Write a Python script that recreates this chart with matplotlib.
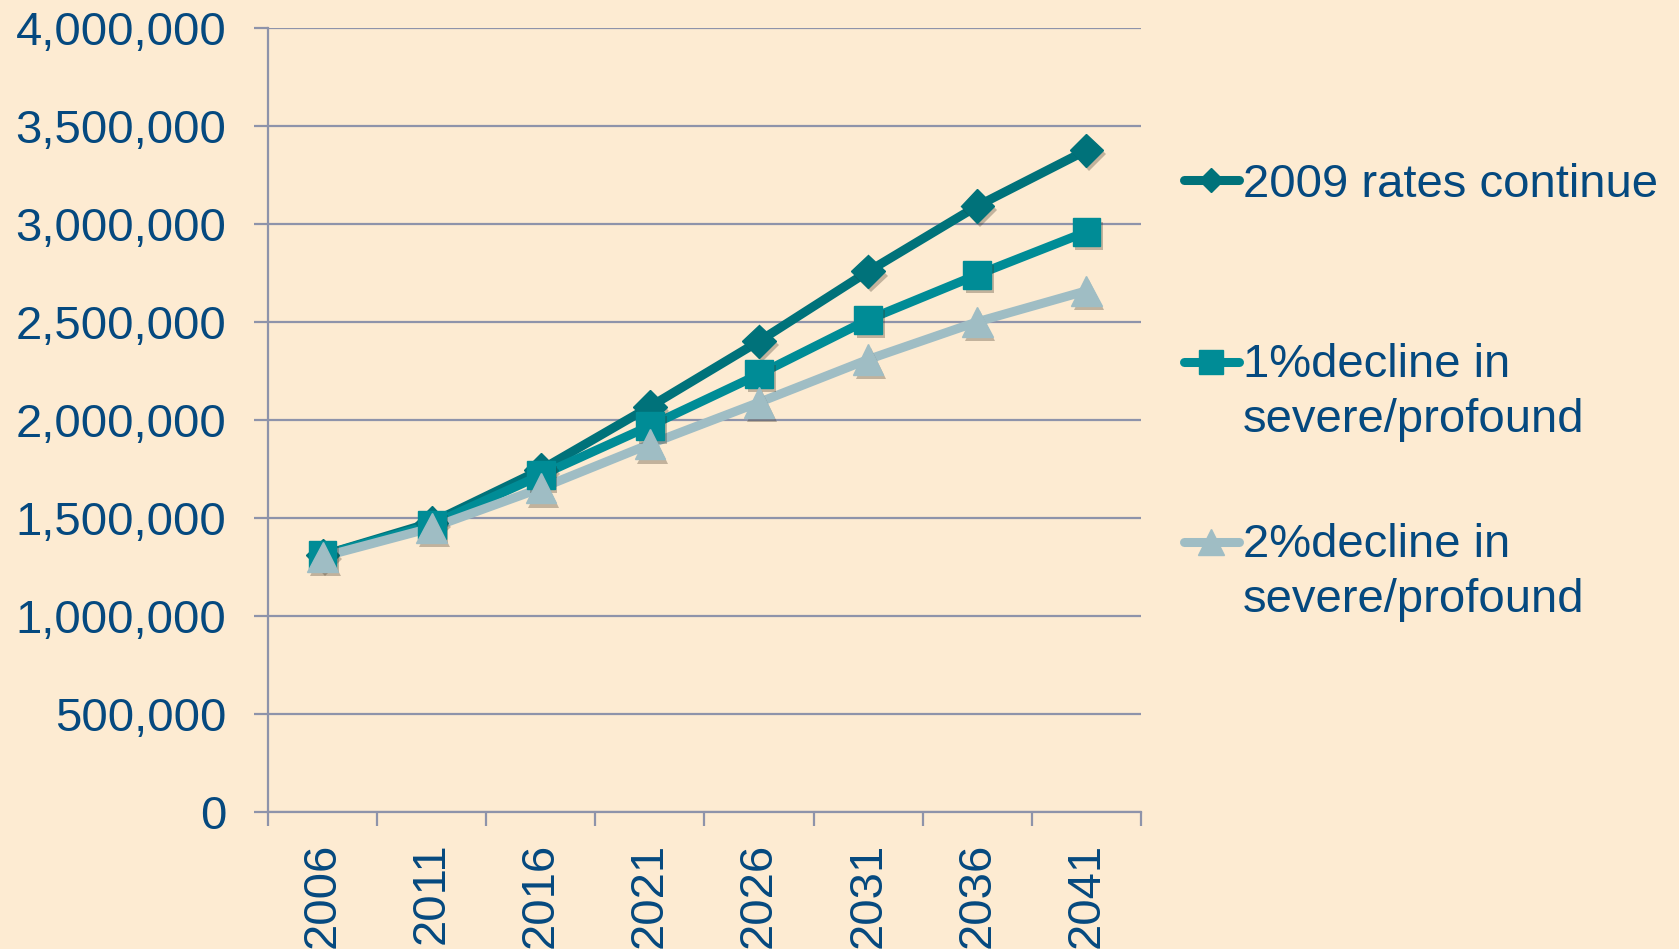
import matplotlib.pyplot as plt
import matplotlib.patheffects as pe
from matplotlib.lines import Line2D
from matplotlib.ticker import FuncFormatter, FixedLocator

plt.rcParams['font.family'] = ['Liberation Sans', 'DejaVu Sans']

# データ
years = ["2006", "2011", "2016", "2021", "2026", "2031", "2036", "2041"]
rates_2009 = [1310000, 1477000, 1746000, 2068000, 2402000, 2758000, 3092000, 3376000]
decline_1pct = [1310000, 1466000, 1718000, 1970000, 2233000, 2512000, 2741000, 2960000]
decline_2pct = [1302000, 1450000, 1652000, 1877000, 2090000, 2309000, 2501000, 2659000]
labels = ["2009 rates continue", "1%decline in\nsevere/profound", "2%decline in\nsevere/profound"]

bg = "#FDEBD2"
text_col = "#05497F"
grid_col = "#8E93AA"
colors = ["#00727A", "#008C96", "#9FBDC4"]
markers = ["D", "s", "^"]
msizes = [17, 20, 22]

W, H = 1679, 949
fig = plt.figure(figsize=(W / 100, H / 100), dpi=100, facecolor=bg)
ax = fig.add_axes([268 / W, 1 - 812 / H, (1141 - 268) / W, (812 - 28) / H])
ax.set_facecolor(bg)

x = list(range(len(years)))
shadow = [pe.SimplePatchShadow(offset=(2, -3), shadow_rgbFace="#3a3020", alpha=0.3), pe.Normal()]
for vals, c, m, ms in zip([rates_2009, decline_1pct, decline_2pct], colors, markers, msizes):
    ax.plot(x, vals, color=c, lw=6.5, solid_capstyle="round", zorder=3)
    ax.plot(x, vals, ls="none", marker=m, ms=ms, color=c, mec=c, zorder=4, path_effects=shadow)

# 軸の設定
ax.set_xlim(-0.5, len(years) - 0.5)
ax.set_ylim(0, 4000000)
ax.set_yticks(range(0, 4000001, 500000))
ax.yaxis.set_major_formatter(FuncFormatter(lambda v, p: f"{int(v):,}"))
ax.grid(axis="y", color=grid_col, lw=1.6, zorder=1)
ax.set_axisbelow(True)

ax.set_xticks(x)
ax.set_xticklabels(years, rotation=90)
ax.xaxis.set_minor_locator(FixedLocator([i - 0.5 for i in range(len(years) + 1)]))
ax.tick_params(axis="x", which="major", length=0, pad=22, labelsize=34, labelcolor=text_col)
ax.tick_params(axis="x", which="minor", length=10, width=1.6, color=grid_col)
ax.tick_params(axis="y", length=10, width=1.6, color=grid_col, pad=20, labelsize=34, labelcolor=text_col)

for s in ["top", "right"]:
    ax.spines[s].set_visible(False)
ax.spines["left"].set_color(grid_col)
ax.spines["left"].set_linewidth(1.6)
ax.spines["bottom"].set_color(grid_col)
ax.spines["bottom"].set_linewidth(1.6)

# 凡例
leg_y = [180, 362, 542]
leg_base = [197, 377, 557]
leg_ms = [12, 17, 19]
for lab, c, m, ms, yy, yb in zip(labels, colors, markers, leg_ms, leg_y, leg_base):
    yf = 1 - yy / H
    fig.add_artist(Line2D([1184 / W, 1239 / W], [yf, yf], color=c, lw=6.5, solid_capstyle="round"))
    fig.add_artist(Line2D([1211 / W], [yf], marker=m, ms=ms, color=c, mec=c))
    for k, line in enumerate(lab.split("\n")):
        fig.text(1243 / W, 1 - (yb + 55 * k) / H, line, fontsize=34, color=text_col,
                 va="baseline", ha="left")

fig.savefig("out.png", dpi=100, facecolor=bg)
